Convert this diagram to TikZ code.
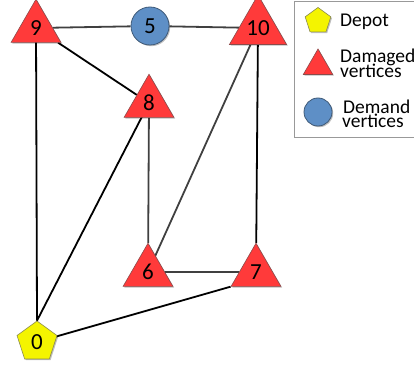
\documentclass[tikz,border=0pt]{standalone}
\usepackage{fontspec}
\setmainfont{Carlito}
\usetikzlibrary{shapes.geometric,backgrounds,shadows}

\definecolor{dmgred}{HTML}{FF3A3A}
\definecolor{dmgedge}{HTML}{8C4A4A}
\definecolor{dmdblue}{HTML}{5E8FC6}
\definecolor{dmdedge}{HTML}{3F5A78}
\definecolor{depyel}{HTML}{F4F400}
\definecolor{depedge}{HTML}{8A8A50}
\definecolor{edgegray}{HTML}{404040}

\tikzset{
  vshadow/.style={drop shadow={shadow xshift=1.2pt, shadow yshift=-1.2pt, opacity=0.25, fill=black}},
  damaged/.style={regular polygon, regular polygon sides=3, minimum size=57.5pt,
    inner sep=0pt, fill=dmgred, draw=dmgedge, line width=0.6pt, vshadow,
    font=\fontsize{23}{27}\selectfont},
  demand/.style={circle, minimum size=38pt, inner sep=0pt, fill=dmdblue,
    draw=dmdedge, line width=0.8pt, vshadow, font=\fontsize{23}{27}\selectfont},
  depot/.style={regular polygon, regular polygon sides=5, minimum size=42pt,
    inner sep=0pt, fill=depyel, draw=depedge, line width=0.6pt, vshadow,
    font=\fontsize{23}{27}\selectfont},
  link/.style={line width=1.8pt, draw=black},
  softlink/.style={line width=1.8pt, draw=edgegray},
  legendtext/.style={anchor=base west, inner sep=0pt, font=\fontsize{19.5}{22}\selectfont},
}

\begin{document}
\begin{tikzpicture}[x=1pt, y=-1pt]
\useasboundingbox (0,0) rectangle (414,366);

% graph vertices
\node[damaged] (v9)  at (36,28)  {9};
\node[demand]  (v5)  at (150,26) {5};
\node[damaged] (v10) at (258,28) {10};
\node[damaged] (v8)  at (149,103) {8};
\node[damaged] (v6)  at (148,272) {6};
\node[damaged] (v7)  at (256,272) {7};
\node[depot]   (v0)  at (37,342) {0};

% edges, kept behind the vertices
\begin{scope}[on background layer]
  \draw[softlink] (v9) -- (v5);
  \draw[softlink] (v5) -- (v10);
  \draw[link] (v9) -- (v8);
  \draw[link] (v9.center) -- (v0.corner 1);
  \draw[link] (v8.center) -- (v0.corner 1);
  \draw[softlink] (v8) -- (v6);
  \draw[softlink] (v10.center) -- (v6.center);
  \draw[link] (v10) -- (v7);
  \draw[softlink] (v6) -- (v7);
  \draw[link] (v7.corner 2) -- (v0.center);
\end{scope}

% legend
\node[draw=gray!80, line width=0.8pt, fill=white, minimum width=124pt,
  minimum height=136pt, inner sep=0pt, anchor=north west] (legend) at (294,1) {};
\node[depot, minimum size=27pt, font=\normalsize] (ldepot) at (318,21) {};
\node[damaged, minimum size=34pt, font=\normalsize] (ldmg) at (318,66) {};
\node[demand, minimum size=28pt, font=\normalsize] (ldmd) at (318,112) {};
\node[legendtext] (tdepot) at (340,27) {Depot};
\node[legendtext] (tdmg)   at (340,63) {Damaged};
\node[legendtext] (tdmgb)  at (340,78) {vertices};
\node[legendtext] (tdmd)   at (343,114) {Demand};
\node[legendtext] (tdmdb)  at (342,128) {vertices};
\end{tikzpicture}
\end{document}
